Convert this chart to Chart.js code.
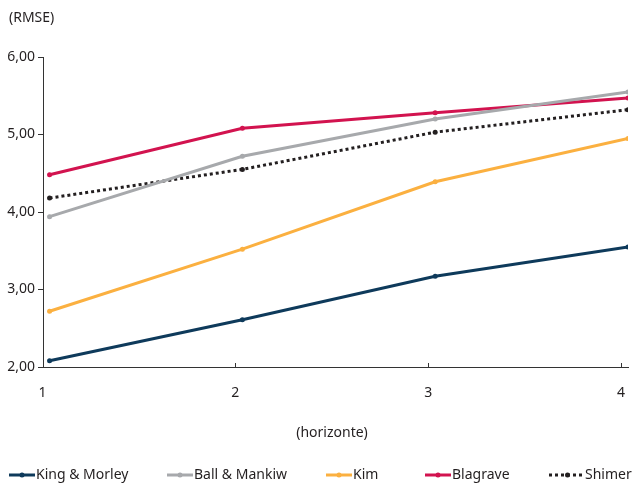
<!DOCTYPE html>
<html>
<head>
<meta charset="utf-8">
<script src="https://cdn.jsdelivr.net/npm/chart.js@4"></script>
<style>
  html, body { margin: 0; padding: 0; background: #fff; }
</style>
</head>
<body>
<canvas id="c" width="634" height="483"></canvas>
<script>
// horizonte
const horizons = [1, 2, 3, 4];

// RMSE by model
const kingMorley = [2.08, 2.61, 3.17, 3.55];
const ballMankiw = [3.94, 4.72, 5.20, 5.55];
const kim = [2.72, 3.52, 4.39, 4.95];
const blagrave = [4.48, 5.08, 5.28, 5.47];
const shimer = [4.18, 4.55, 5.03, 5.32];

const yTicks = [2, 3, 4, 5, 6];

const FONT = '"Noto Sans", sans-serif';
const TXT = '#231f20';
const LABEL_SHIFT = -7;   // category labels sit a little left of the points
const legendX = [9, 167, 326, 425, 549];

function pts(vals) {
    return horizons.map((h, i) => ({ x: h, y: vals[i] }));
}

function series(label, vals, color, dash) {
    return {
        label: label,
        data: pts(vals),
        borderColor: color,
        backgroundColor: color,
        borderWidth: 3,
        borderDash: dash || [],
        pointRadius: 2.5,
        pointHoverRadius: 2.5,
        pointBorderWidth: 0,
        tension: 0
    };
}

// axis title, inward x ticks and the legend are drawn by hand
const extras = {
    id: 'extras',
    afterDraw(chart) {
        const ctx = chart.ctx;
        const area = chart.chartArea;
        const xs = chart.scales.x;
        ctx.save();

        ctx.strokeStyle = '#333';
        ctx.lineWidth = 1;
        horizons.slice(1).forEach(h => {
            const px = Math.round(xs.getPixelForValue(h) + LABEL_SHIFT) + 0.5;
            ctx.beginPath();
            ctx.moveTo(px, area.bottom);
            ctx.lineTo(px, area.bottom - 4);
            ctx.stroke();
        });

        ctx.fillStyle = TXT;
        ctx.font = '14px ' + FONT;
        ctx.textBaseline = 'middle';
        ctx.textAlign = 'left';
        ctx.fillText('(RMSE)', 9, 18);
        ctx.textAlign = 'center';
        ctx.fillText('(horizonte)', 332, 433);

        // legend
        ctx.textAlign = 'left';
        const y = 475;
        chart.data.datasets.forEach((ds, i) => {
            const x = legendX[i];
            const dotted = ds.borderDash.length > 0;
            const len = dotted ? 35 : 26;
            ctx.strokeStyle = ds.borderColor;
            ctx.lineWidth = 3;
            ctx.setLineDash(dotted ? [3, 3] : []);
            ctx.beginPath();
            ctx.moveTo(x, y);
            ctx.lineTo(x + len, y);
            ctx.stroke();
            ctx.setLineDash([]);
            ctx.fillStyle = ds.borderColor;
            ctx.beginPath();
            ctx.arc(x + len / 2 + (dotted ? 1 : 0), y, 2.5, 0, Math.PI * 2);
            ctx.fill();
            ctx.fillStyle = TXT;
            ctx.fillText(ds.label, x + len + 1, y);
        });
        ctx.restore();
    }
};

new Chart(document.getElementById('c'), {
    type: 'line',
    data: {
        datasets: [
            series('King & Morley', kingMorley, '#0e3a5b'),
            series('Ball & Mankiw', ballMankiw, '#a7a9ac'),
            series('Kim', kim, '#fbb040'),
            series('Blagrave', blagrave, '#d2134f'),
            series('Shimer', shimer, '#231f20', [3, 3])
        ]
    },
    options: {
        responsive: false,
        animation: false,
        events: [],
        layout: { padding: { top: 57, right: 6, bottom: 0, left: 0 } },
        plugins: {
            legend: { display: false },
            tooltip: { enabled: false }
        },
        scales: {
            x: {
                type: 'linear',
                min: 0.966,
                max: 4,
                afterBuildTicks: s => { s.ticks = horizons.map(v => ({ value: v })); },
                afterFit: s => { s.height = 116; s.paddingRight = 0; s.paddingLeft = 0; },
                border: { color: '#333', width: 1 },
                grid: { display: false },
                ticks: {
                    color: TXT,
                    font: { family: FONT, size: 14 },
                    padding: 10,
                    labelOffset: LABEL_SHIFT,
                    callback: v => String(v)
                }
            },
            y: {
                min: 2,
                max: 6,
                afterBuildTicks: s => { s.ticks = yTicks.map(v => ({ value: v })); },
                afterFit: s => { s.width = 43; },
                border: { color: '#333', width: 1 },
                grid: { drawOnChartArea: false, drawTicks: true, tickLength: 5, color: '#333' },
                ticks: {
                    color: TXT,
                    font: { family: FONT, size: 14 },
                    padding: 3,
                    callback: v => v.toFixed(2).replace('.', ',')
                }
            }
        }
    },
    plugins: [extras]
});
</script>
</body>
</html>
